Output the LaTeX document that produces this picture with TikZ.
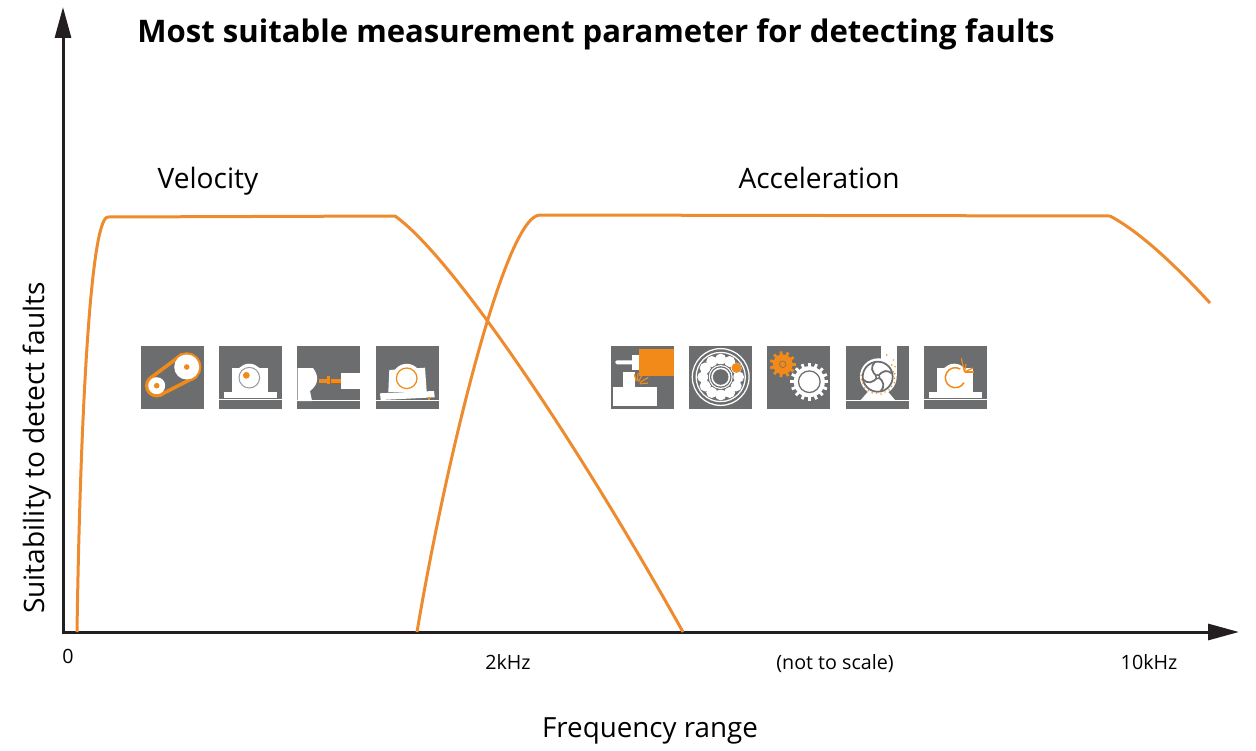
\documentclass[tikz,border=0pt]{standalone}
\usepackage{fontspec}
\setmainfont{Open Sans}
\usetikzlibrary{arrows.meta}
\definecolor{curve}{HTML}{EE8B2E}
\definecolor{spot}{HTML}{F28A1A}
\definecolor{tile}{HTML}{6C6D6F}
\definecolor{axis}{HTML}{231F20}
\newcommand{\tiletext}[1]{\fontsize{#1}{#1}\selectfont}
% pedestal bearing block, without its ring
\newcommand{\blockshape}{
    \fill[white] (4.5,45.5) rectangle (58,52);
    \fill[white] (12.7,22) rectangle (49.3,46);
    \fill[white] (30.3,31.7) circle[radius=14];
    \fill[white] (0,53) rectangle (63,54.4);
}
% gear: centre, body radius, tip radius, teeth
\newcommand{\gearshape}[5]{
    \fill[#5] (#1) circle[radius=#2];
    \foreach \t in {1,...,#4}
    {
        \fill[#5, shift={(#1)}, rotate=\t*360/#4] (#2-.5,-1.4) rectangle (#3,1.4);
    }
}
\tikzset{
    curveline/.style={curve, line width=.06cm},
    axisline/.style={axis, line width=.06cm, -{Triangle[length=.62cm, width=.32cm]}},
    icon/.style={shift={(#1,346)}},
    flaw/.style={spot, line width=.025cm},
    blade/.style={tile, line width=.035cm},
}
\begin{document}
\begin{tikzpicture}[x=.02cm, y=-.02cm]
\useasboundingbox (0,0) rectangle (1256,750);
\coordinate (origin) at (63,632);
\coordinate (xend) at (1239,632);
\coordinate (yend) at (63,7);
\draw[axisline] (origin)--(xend);
\draw[axisline] ([yshift=-.03cm]origin)--(yend);
\node (title) at (596,34){\tiletext{17.7}\bfseries Most suitable measurement parameter for detecting faults};
\node[anchor=base] (velocity) at (208,188){\tiletext{16}Velocity};
\node[anchor=base] (acceleration) at (819,188){\tiletext{16}Acceleration};
\node[rotate=90] (suitability) at (37,448){\tiletext{16}Suitability to detect faults};
\node[anchor=base] (range) at (650,737){\tiletext{15.8}Frequency range};
\node[anchor=base] (zero) at (68,663){\tiletext{11.2}0};
\foreach \x/\xtext/\xname in {508/2kHz/two, 835/(not to scale)/scale, 1149/10kHz/ten}
{
    \node[anchor=base] (\xname) at (\x,669){\tiletext{11.2}\xtext};
}
% curves
\draw[curveline] (77,632) .. controls (80,430) and (90,217) .. (108,217)--(395,216)
    .. controls (450,255) and (570,430) .. (683,632);
\draw[curveline] (417,632) .. controls (445,465) and (505,215) .. (540,215)--(1110,216)
    .. controls (1140,232) and (1175,265) .. (1210,303);
% tiles
\foreach \x in {141,219,297,376,611,689,767,846,924}
{
    \fill[tile] (\x,346) rectangle +(63,63);
}
% belt
\begin{scope}[icon=141]
\draw[spot, line width=.07cm] (45.7,21) circle[radius=13];
\draw[spot, line width=.07cm] (15.7,39.7) circle[radius=10];
\draw[spot, line width=.07cm, fill=tile] (53.5,31.4)--(21.7,47.7)--(11.1,30.8)--(39.8,9.4)--cycle;
\fill[white] (45.7,21) circle[radius=12.5];
\fill[white] (15.7,39.7) circle[radius=8.5];
\fill[spot] (45.7,21) circle[radius=2.8];
\fill[spot] (15.7,39.7) circle[radius=2.8];
\end{scope}
% unbalance
\begin{scope}[icon=219]
\blockshape
\draw[gray!80, line width=.02cm] (30.3,31.7) circle[radius=10.3];
\fill[spot] (27.3,29.3) circle[radius=3.4];
\end{scope}
% misalignment
\begin{scope}[icon=297]
\fill[white] (.7,22)--(16,22) .. controls (22,30) and (22,38) .. (13,45)--(15,55)--(.7,55)--cycle;
\fill[white] (44,27.3) rectangle (63,43);
\fill[white] (0,54) rectangle (63,55);
\fill[spot] (22,32.5) rectangle (33,36.5);
\fill[spot] (30.3,29.7) rectangle (33,38.3);
\fill[spot] (34.3,33) rectangle (44,37);
\fill[spot!70!black] (34.3,37) rectangle (44,38.3);
\end{scope}
% looseness
\begin{scope}[icon=376]
\fill[white] (4,47.3)--(58,45)--(58.7,51.3)--(4.7,54)--cycle;
\fill[white] (13.3,24)--(49,21.7)--(50.7,46)--(12.3,46)--cycle;
\fill[white] (30.7,32.3) circle[radius=14.5];
\fill[white] (0,54.3) rectangle (63,55.3);
\draw[spot, line width=.025cm] (30.7,32.3) circle[radius=10.3];
\fill[spot] (51.5,51) rectangle (54,53.5);
\end{scope}
% cutting
\begin{scope}[icon=611]
\fill[spot] (27.7,2.5) rectangle (63,29.5);
\fill[white] (21,8.7) rectangle (28,23.7);
\fill[white, rounded corners=.03cm] (4.3,14.3) rectangle (23,18.3);
\fill[white] (11.7,26) rectangle (24.3,42);
\fill[white] (1.7,41) rectangle (46,60);
\foreach \a/\len in {-105/7,-85/8,-60/8,-30/10,-5/8}
{
    \draw[flaw] (26,38)++(\a:3)--++(\a:\len);
}
\end{scope}
% bearing
\begin{scope}[icon=689]
\draw[white, line width=.025cm] (31.7,31) circle[radius=28.4];
\draw[white, line width=.025cm] (31.7,31) circle[radius=24.6];
\foreach \a in {0,30,...,330}
{
    \fill[white] (31.7,31)++(\a:17.8) circle[radius=5.6];
}
\fill[spot] (31.7,31)++(-30:18.2) circle[radius=5];
\fill[tile] (31.7,31) circle[radius=12.8];
\fill[white] (31.7,31) circle[radius=12];
\fill[tile] (31.7,31) circle[radius=10.8];
\fill[white] (31.7,31) circle[radius=9.5];
\fill[tile] (31.7,31) circle[radius=7.8];
\end{scope}
% gears
\begin{scope}[icon=767]
\gearshape{15.7,18.3}{10}{13}{11}{spot}
\draw[tile!80!spot, line width=.015cm] (15.7,18.3) circle[radius=3.3];
\gearshape{42.3,35.7}{15.5}{19}{16}{white}
\draw[tile, line width=.025cm] (42.3,35.7) circle[radius=10.8];
\end{scope}
% pump
\begin{scope}[icon=846]
\fill[white] (34.7,0) rectangle (50.7,30);
\fill[white] (32.3,30.7) circle[radius=18.4];
\fill[white] (14.7,54)--(22,45.7)--(42,45.7)--(49,54)--cycle;
\fill[white] (0,53.5) rectangle (63,55);
\draw[tile, line width=.035cm] (31.7,30.7) circle[radius=15];
\foreach \a in {0,90,180,270}
{
    \draw[blade, shift={(31.7,30.7)}, rotate=\a] (0,0) .. controls (5,-7) and (10,-7) .. (14.5,-3);
}
\fill[tile] (31.7,30.7) circle[radius=2.6];
\fill[white] (31.7,30.7) circle[radius=1.1];
\foreach \a/\r in {-10/17,5/16.6,20/17.4,35/16.6,50/17.2,65/16.8,80/17.6,95/16.6,110/17.2,125/16.8,140/17.4,155/16.6,170/17,185/16.8}
{
    \fill[spot] (32,30.7)++(\a:\r) circle[radius=.8];
}
\foreach \x/\y in {40.7/9,47.3/14,45.7/19,49/20.7,47.3/25.7}
{
    \fill[spot] (\x,\y) circle[radius=.8];
}
\end{scope}
% bearing fault
\begin{scope}[icon=924]
\blockshape
\draw[spot, line width=.03cm] (31.3,31.7)++(30:10) arc[start angle=30, end angle=300, radius=10];
\foreach \x/\y in {37.3/12.3,42/18,49/22,50/26}
{
    \draw[flaw] (40.5,26)--(\x,\y);
}
\end{scope}
\end{tikzpicture}
\end{document}
